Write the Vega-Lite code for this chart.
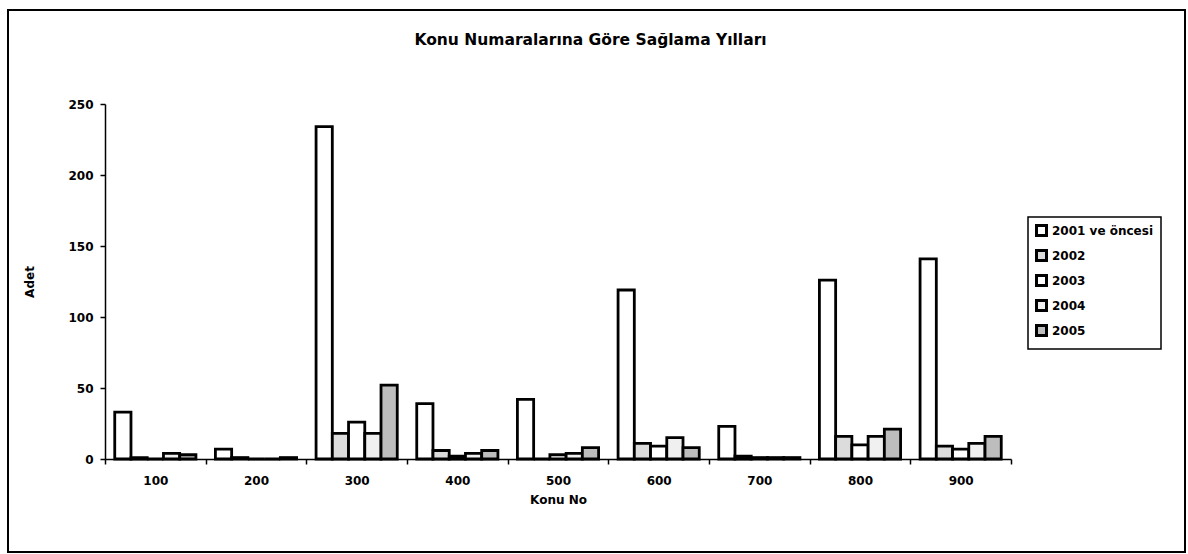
{
  "$schema": "https://vega.github.io/schema/vega-lite/v6.json",
  "autosize": {"type": "none"},
  "padding": {"left": 8, "top": 10, "right": 3, "bottom": 2},
  "width": 1177,
  "height": 542,
  "background": "white",
  "config": {
    "font": "DejaVu Sans",
    "view": {"stroke": "black", "strokeWidth": 2},
    "axis": {"grid": false, "domainColor": "black", "domainWidth": 1.5, "tickColor": "black", "tickWidth": 1.5, "labelColor": "black", "titleColor": "black", "labelFont": "DejaVu Sans", "titleFont": "DejaVu Sans", "labelFontWeight": "bold", "titleFontWeight": "bold", "labelFontSize": 12, "titleFontSize": 12}
  },
  "title": {
    "text": "Konu Numaralarına Göre Sağlama Yılları",
    "font": "DejaVu Sans",
    "fontSize": 15.5,
    "fontWeight": "bold",
    "color": "black",
    "anchor": "middle",
    "baseline": "top",
    "offset": -38,
    "dx": -6
  },
  "data": {
    "values": [
      {"konu": "100", "yil": "2001 ve öncesi", "adet": 33},
      {"konu": "100", "yil": "2002", "adet": 1},
      {"konu": "100", "yil": "2003", "adet": 0},
      {"konu": "100", "yil": "2004", "adet": 4},
      {"konu": "100", "yil": "2005", "adet": 3},
      {"konu": "200", "yil": "2001 ve öncesi", "adet": 7},
      {"konu": "200", "yil": "2002", "adet": 1},
      {"konu": "200", "yil": "2003", "adet": 0},
      {"konu": "200", "yil": "2004", "adet": 0},
      {"konu": "200", "yil": "2005", "adet": 1},
      {"konu": "300", "yil": "2001 ve öncesi", "adet": 234},
      {"konu": "300", "yil": "2002", "adet": 18},
      {"konu": "300", "yil": "2003", "adet": 26},
      {"konu": "300", "yil": "2004", "adet": 18},
      {"konu": "300", "yil": "2005", "adet": 52},
      {"konu": "400", "yil": "2001 ve öncesi", "adet": 39},
      {"konu": "400", "yil": "2002", "adet": 6},
      {"konu": "400", "yil": "2003", "adet": 2},
      {"konu": "400", "yil": "2004", "adet": 4},
      {"konu": "400", "yil": "2005", "adet": 6},
      {"konu": "500", "yil": "2001 ve öncesi", "adet": 42},
      {"konu": "500", "yil": "2002", "adet": 0},
      {"konu": "500", "yil": "2003", "adet": 3},
      {"konu": "500", "yil": "2004", "adet": 4},
      {"konu": "500", "yil": "2005", "adet": 8},
      {"konu": "600", "yil": "2001 ve öncesi", "adet": 119},
      {"konu": "600", "yil": "2002", "adet": 11},
      {"konu": "600", "yil": "2003", "adet": 9},
      {"konu": "600", "yil": "2004", "adet": 15},
      {"konu": "600", "yil": "2005", "adet": 8},
      {"konu": "700", "yil": "2001 ve öncesi", "adet": 23},
      {"konu": "700", "yil": "2002", "adet": 2},
      {"konu": "700", "yil": "2003", "adet": 1},
      {"konu": "700", "yil": "2004", "adet": 1},
      {"konu": "700", "yil": "2005", "adet": 1},
      {"konu": "800", "yil": "2001 ve öncesi", "adet": 126},
      {"konu": "800", "yil": "2002", "adet": 16},
      {"konu": "800", "yil": "2003", "adet": 10},
      {"konu": "800", "yil": "2004", "adet": 16},
      {"konu": "800", "yil": "2005", "adet": 21},
      {"konu": "900", "yil": "2001 ve öncesi", "adet": 141},
      {"konu": "900", "yil": "2002", "adet": 9},
      {"konu": "900", "yil": "2003", "adet": 7},
      {"konu": "900", "yil": "2004", "adet": 11},
      {"konu": "900", "yil": "2005", "adet": 16}
    ]
  },
  "mark": {"type": "bar", "stroke": "black", "strokeWidth": 2.8},
  "encoding": {
    "x": {
      "field": "konu",
      "type": "nominal",
      "sort": null,
      "scale": {"range": [97, 1003], "paddingInner": 0, "paddingOuter": 0},
      "axis": {"title": "Konu No", "labelAngle": 0, "tickBand": "extent", "offset": -93, "tickSize": 5, "labelPadding": 11, "titlePadding": 8}
    },
    "xOffset": {
      "field": "yil",
      "type": "nominal",
      "sort": null,
      "scale": {"paddingInner": 0, "paddingOuter": 0.6}
    },
    "y": {
      "field": "adet",
      "type": "quantitative",
      "scale": {"domain": [0, 250], "range": [449, 94], "nice": false},
      "axis": {"title": "Adet", "values": [0, 50, 100, 150, 200, 250], "offset": -97, "tickSize": 5, "labelPadding": 7, "titlePadding": 31}
    },
    "fill": {
      "field": "yil",
      "type": "nominal",
      "sort": null,
      "scale": {"range": ["#ffffff", "#dcdcdc", "#ffffff", "#f0f0f0", "#bdbdbd"]},
      "legend": {
        "title": null,
        "orient": "none",
        "legendX": 1020,
        "legendY": 207,
        "strokeColor": "black",
        "padding": 7,
        "rowPadding": 2,
        "symbolType": "square",
        "symbolSize": 100,
        "symbolStrokeColor": "black",
        "symbolStrokeWidth": 3,
        "labelFont": "DejaVu Sans",
        "labelFontWeight": "bold",
        "labelFontSize": 12,
        "labelColor": "black",
        "labelOffset": 4,
        "encode": {"legend": {"update": {"strokeWidth": {"value": 1.5}}}}
      }
    }
  }
}
